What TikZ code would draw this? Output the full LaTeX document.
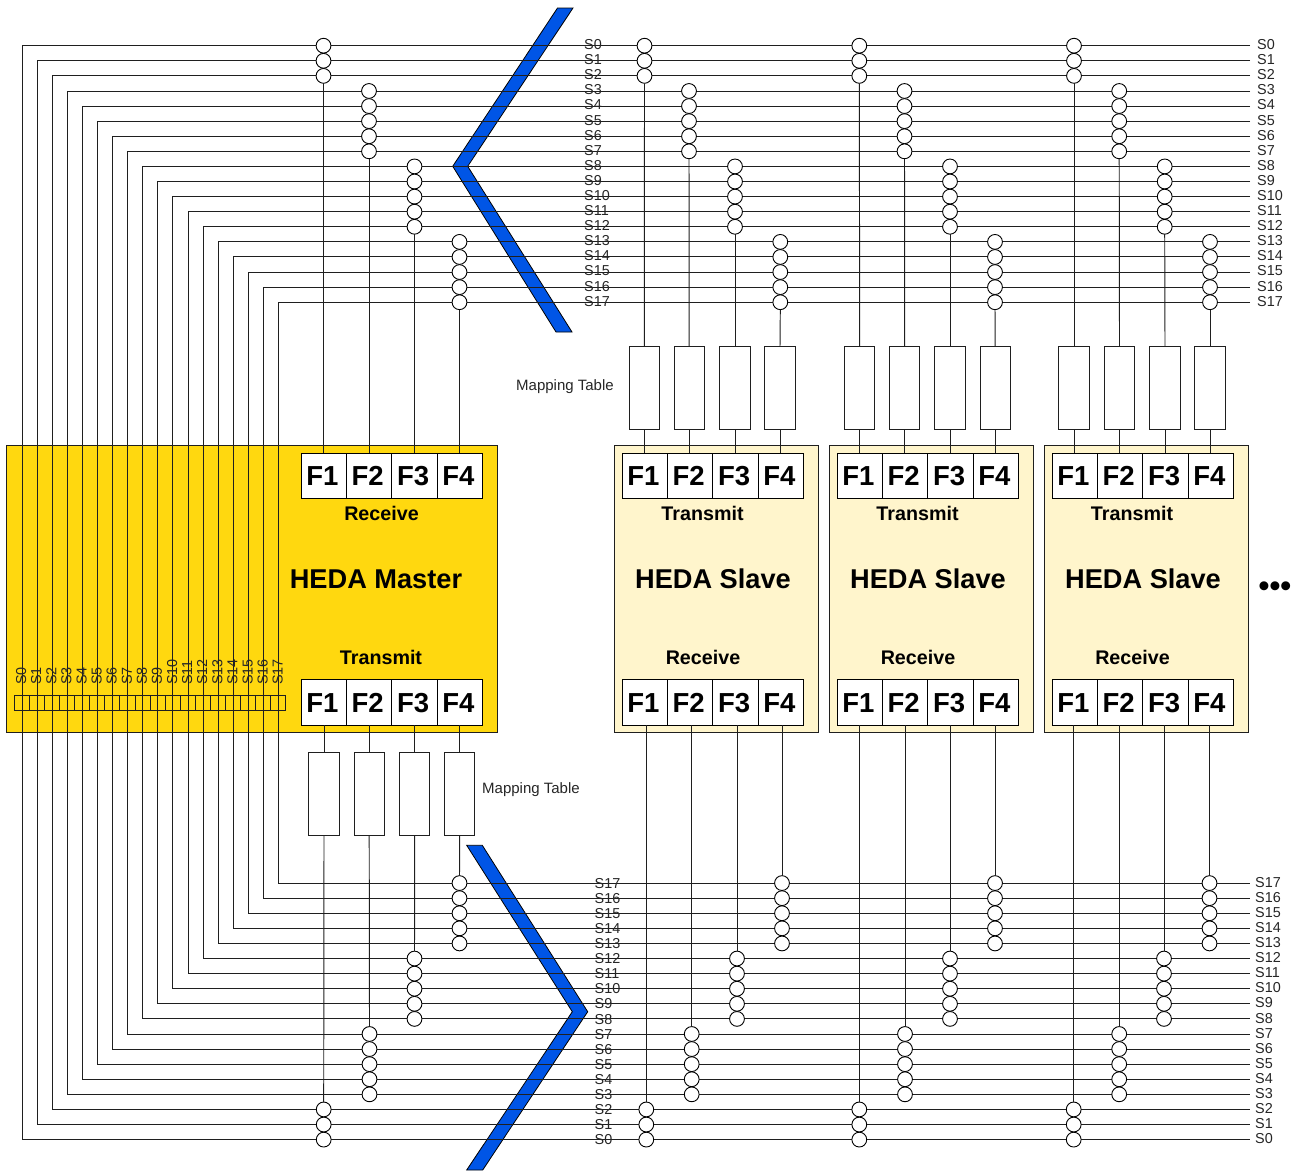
\documentclass[tikz,border=0pt]{standalone}
\usepackage{fontspec}
\setmainfont{Liberation Sans}
\definecolor{masterfill}{HTML}{FFD80F}
\definecolor{slavefill}{HTML}{FFF5CC}
\definecolor{chevron}{HTML}{0055E6}
\definecolor{wire}{gray}{0.12}
\tikzset{
  wireline/.style={draw=wire,line width=0.95pt},
  masterbox/.style={draw=wire,line width=1pt,fill=masterfill,rectangle,minimum width=490.5pt,minimum height=287pt,inner sep=0pt,outer sep=0pt},
  slavebox/.style={draw=wire,line width=1pt,fill=slavefill,rectangle,minimum width=204pt,minimum height=287pt,inner sep=0pt,outer sep=0pt},
  fcell/.style={draw=black,line width=1pt,fill=white,rectangle,minimum width=45.35pt,minimum height=45.5pt,inner sep=0pt,outer sep=0pt,text height=19.5pt,text depth=0pt,font=\fontsize{27.5}{27}\selectfont\bfseries},
  mapbox/.style={draw=wire,line width=1pt,fill=white,rectangle,minimum width=30.3pt,minimum height=83pt,inner sep=0pt,outer sep=0pt},
  tap/.style={draw=black,line width=0.9pt,fill=white,circle,minimum size=14.8pt,inner sep=0pt,outer sep=0pt},
  stripcell/.style={draw=wire,line width=0.9pt,rectangle,minimum width=15.09pt,minimum height=15pt,inner sep=0pt,outer sep=0pt},
  siglabel/.style={font=\fontsize{14.4}{14}\selectfont,text=black!85,inner sep=0pt,anchor=west},
  riglabel/.style={font=\fontsize{14.4}{14}\selectfont,text=black!85,inner sep=0pt,anchor=west,rotate=90},
  portlabel/.style={font=\fontsize{19.7}{20}\selectfont\bfseries,inner sep=0pt,text height=14pt,text depth=0pt},
  titlelabel/.style={font=\fontsize{27.2}{28}\selectfont\bfseries,inner sep=0pt,text height=19.5pt,text depth=0pt},
  maplabel/.style={font=\fontsize{15}{15}\selectfont,text=black!85,inner sep=0pt,anchor=west},
  chevronshape/.style={draw=black,line width=0.8pt,fill=chevron},
}
\begin{document}
\begin{tikzpicture}[x=1pt,y=-1pt]
\useasboundingbox (0,0) rectangle (1298,1171);
% device boxes
\node[masterbox] (master) at (251.75,589) {};
\node[slavebox] (slaveA) at (716.5,589) {};
\node[slavebox] (slaveB) at (931,589) {};
\node[slavebox] (slaveC) at (1146,589) {};
% chevrons
\draw[chevronshape] (557.5,8) -- (573,8) -- (467.7,166.3) -- (572,332) -- (556,332) -- (452.7,166.3) -- cycle;
\draw[chevronshape] (466.7,845.3) -- (482.3,845.3) -- (587.7,1011.7) -- (482.7,1170) -- (466.7,1170) -- (572.3,1011.7) -- cycle;
% strip in the master
\foreach \i [evaluate=\i as \sx using 21.85+15.09*\i] in {0,...,17}
  \node[stripcell] (strip\i) at (\sx,703) {};
% bus end points and signal wires
\foreach \i [evaluate=\i as \ty using 45.7+15.09*\i,
             evaluate=\i as \by using 1139.6-15.09*\i,
             evaluate=\i as \lx using 22+15.09*\i] in {0,...,17} {
  \coordinate (topL\i) at (\lx,\ty);
  \coordinate (topR\i) at (1250,\ty);
  \coordinate (botL\i) at (\lx,\by);
  \coordinate (botR\i) at (1250,\by);
  \draw[wireline] (topR\i) -- (topL\i) -- (botL\i) -- (botR\i);
}
% function tables
\foreach \t/\lft in {mas/301,sla/622,slb/837,slc/1052} {
  \foreach \c [evaluate=\c as \cx using \lft+45.35*(\c-0.5)] in {1,2,3,4} {
    \node[fcell] (\t up\c) at (\cx,476) {F\c\kern2.6pt};
    \node[fcell] (\t dn\c) at (\cx,702.5) {F\c\kern2.6pt};
  }
}
% mapping tables
\foreach \n/\x/\y in {mas1/324/793.5,mas2/369.2/793.5,mas3/414.7/793.5,mas4/459.7/793.5,
  sla1/644.3/388,sla2/689.2/388,sla3/735/388,sla4/780/388,
  slb1/859.7/388,slb2/904.7/388,slb3/950/388,slb4/995.2/388,
  slc1/1074/388,slc2/1119.5/388,slc3/1165/388,slc4/1210/388}
  \node[mapbox] (map\n) at (\x,\y) {};
% taps
\foreach \t/\c/\tx/\bx/\first/\last in {
  mas/1/323.5/323.7/0/2, mas/2/369/369.5/3/7, mas/3/414.5/414.5/8/12, mas/4/459.5/459.5/13/17,
  sla/1/644.5/646.3/0/2, sla/2/689/691.7/3/7, sla/3/735/737/8/12, sla/4/780.3/782/13/17,
  slb/1/859.3/859.3/0/2, slb/2/904.5/905/3/7, slb/3/950/950/8/12, slb/4/995/995/13/17,
  slc/1/1074/1073.7/0/2, slc/2/1119.2/1119.2/3/7, slc/3/1164.7/1164/8/12, slc/4/1210/1209.5/13/17} {
  \foreach \i in {\first,...,\last} {
    \node[tap] (\t T\c S\i) at (\tx,0 |- topL\i) {};
    \node[tap] (\t B\c S\i) at (\bx,0 |- botL\i) {};
  }
}
% vertical connectors: master
\foreach \c/\l in {1/2,2/7,3/12,4/17} {
  \draw[wireline] (masT\c S\l.south) -- (masT\c S\l.south |- masup\c.north);
  \draw[wireline] (mapmas\c.north) -- (mapmas\c.north |- masdn\c.south);
  \draw[wireline] (mapmas\c.south) -- (masB\c S\l.north);
}
% vertical connectors: slaves
\foreach \t in {sla,slb,slc} {
  \foreach \c/\l in {1/2,2/7,3/12,4/17} {
    \draw[wireline] (\t T\c S\l.south) -- (map\t\c.north);
    \draw[wireline] (map\t\c.south) -- (map\t\c.south |- \t up\c.north);
    \draw[wireline] (\t B\c S\l.north) -- (\t B\c S\l.north |- \t dn\c.south);
  }
}
% signal labels
\foreach \i [evaluate=\i as \ty using 44.6+15.09*\i,
             evaluate=\i as \by using 1139.8-15.09*\i,
             evaluate=\i as \sx using 21.2+15.09*\i] in {0,...,17} {
  \node[siglabel] (lblTM\i) at (584,\ty) {S\i};
  \node[siglabel] (lblTR\i) at (1257,\ty) {S\i};
  \node[siglabel] (lblBM\i) at (594.5,\by) {S\i};
  \node[siglabel] (lblBR\i) at (1255,\by-1) {S\i};
  \node[riglabel] (lblSt\i) at (\sx,685) {S\i};
}
% device texts
\node[titlelabel] (ttlM) at (376,579) {HEDA Master};
\node[portlabel] (rxM) at (381.5,513.5) {Receive};
\node[portlabel] (txM) at (381,657.5) {Transmit};
\foreach \t/\a/\b/\r in {sla/713/702.5/703,slb/928/917.5/918,slc/1143/1132/1132.5} {
  \node[titlelabel] (ttl\t) at (\a,579) {HEDA Slave};
  \node[portlabel] (tx\t) at (\b,513.5) {Transmit};
  \node[portlabel] (rx\t) at (\r,657.5) {Receive};
}
\node[maplabel] (mapTop) at (516,386.5) {Mapping Table};
\node[maplabel] (mapBot) at (482,789.5) {Mapping Table};
\node[font=\fontsize{31}{31}\selectfont\bfseries,inner sep=0pt] (more) at (1275,589) {•••};
\end{tikzpicture}
\end{document}
